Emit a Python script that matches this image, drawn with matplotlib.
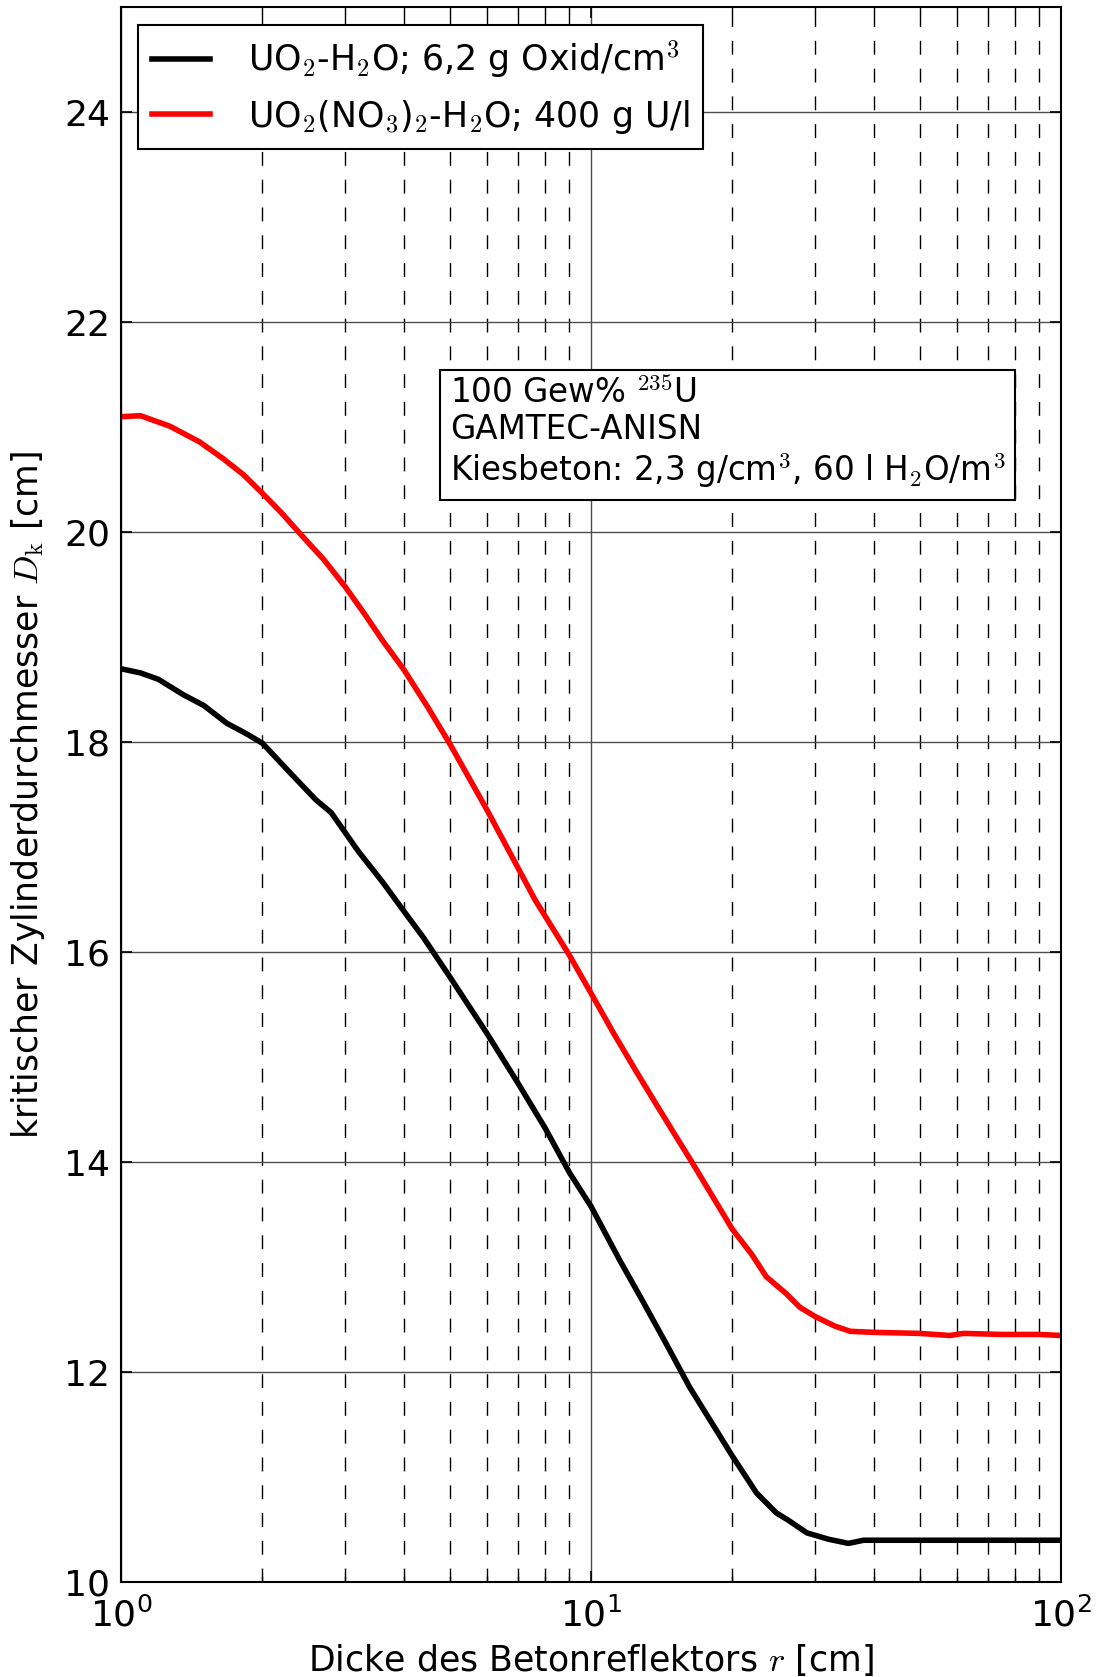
import matplotlib
matplotlib.use("Agg")
import matplotlib.pyplot as plt
from matplotlib.ticker import LogLocator

plt.rcParams['font.family'] = ['DejaVu Sans']
plt.rcParams['mathtext.fontset'] = 'cm'
plt.rcParams['font.size'] = 24

# Betonreflektor-Dicke r [cm] und kritischer Durchmesser D_k [cm]
r_oxid = [1, 1.1, 1.2, 1.36, 1.5, 1.68, 1.85, 2.0, 2.3, 2.6, 2.8, 3.2, 3.6, 4.0,
          4.4, 5.0, 6.0, 7.0, 8.0, 9.0, 10, 11.5, 12.8, 14.5, 16.2, 18, 20,
          22.5, 24.8, 26.3, 28.8, 32, 35.3, 38, 45, 60, 80, 100]
dk_oxid = [18.70, 18.66, 18.60, 18.45, 18.35, 18.18, 18.08, 17.99, 17.70, 17.45,
           17.33, 16.96, 16.67, 16.39, 16.14, 15.77, 15.23, 14.75, 14.32, 13.90,
           13.58, 13.07, 12.70, 12.26, 11.86, 11.53, 11.20, 10.85, 10.66, 10.59,
           10.47, 10.41, 10.37, 10.40, 10.40, 10.40, 10.40, 10.40]

r_nitrat = [1, 1.1, 1.27, 1.47, 1.65, 1.82, 2.0, 2.2, 2.4, 2.7, 3.0, 3.3, 3.6,
            4.0, 4.5, 5.0, 6.0, 7.0, 7.6, 9.0, 10, 11.2, 12.5, 13.6, 15, 16.4,
            18, 20, 22, 23.6, 26, 27.8, 30, 33, 35.6, 40, 50, 58, 62, 75, 90, 100]
dk_nitrat = [21.10, 21.11, 21.01, 20.86, 20.70, 20.55, 20.37, 20.18, 19.99, 19.74,
             19.48, 19.22, 18.97, 18.69, 18.33, 17.99, 17.36, 16.80, 16.50, 15.97,
             15.61, 15.22, 14.86, 14.59, 14.28, 14.00, 13.70, 13.36, 13.12, 12.91,
             12.75, 12.62, 12.53, 12.44, 12.39, 12.38, 12.37, 12.35, 12.37, 12.36,
             12.36, 12.35]

labels = [r'UO$_2$-H$_2$O; 6,2 g Oxid/cm$^3$',
          r'UO$_2$(NO$_3$)$_2$-H$_2$O; 400 g U/l']
yticks = [10, 12, 14, 16, 18, 20, 22, 24]

fig = plt.figure(figsize=(10.98, 16.77), dpi=100)
ax = fig.add_axes([0.1102, 0.0565, 0.8561, 0.9392])

ax.plot(r_oxid, dk_oxid, color='k', lw=4, label=labels[0])
ax.plot(r_nitrat, dk_nitrat, color='r', lw=4, label=labels[1])

ax.set_xscale('log')
ax.set_xlim(1, 100)
ax.set_ylim(10, 25)
ax.set_yticks(yticks)
ax.xaxis.set_minor_locator(LogLocator(base=10, subs=range(2, 10)))

ax.grid(which='major', ls='-', color='0.3', lw=1.0)
ax.grid(which='minor', axis='x', ls='--', color='k', lw=1.0, dashes=(10, 10))
ax.tick_params(which='both', direction='in', top=True, right=True)
ax.tick_params(which='major', length=8, width=1.2, pad=8, labelsize=26)
ax.tick_params(axis='x', which='major', pad=11)
ax.tick_params(which='minor', length=4, width=1.0)
for sp in ax.spines.values():
    sp.set_linewidth(1.5)

ax.set_xlabel(r'Dicke des Betonreflektors $r$ [cm]', fontsize=25, labelpad=6)
ax.set_ylabel(r'kritischer Zylinderdurchmesser $D_\mathrm{k}$ [cm]', fontsize=25,
              labelpad=12)

leg = ax.legend(loc='upper left', fancybox=False, framealpha=1, fontsize=25,
                handlelength=1.65, handletextpad=1.1, borderaxespad=0.5)
leg.get_frame().set_edgecolor('k')
leg.get_frame().set_linewidth(1.5)

ax.text(0.35, 0.765, '100 Gew% $^{235}$U\nGAMTEC-ANISN\n'
        'Kiesbeton: 2,3 g/cm$^3$, 60 l H$_2$O/m$^3$',
        transform=ax.transAxes, ha='left', va='top', fontsize=23.5,
        linespacing=1.12,
        bbox=dict(boxstyle='square,pad=0.3', fc='w', ec='k', lw=1.5))

fig.savefig('out.png', dpi=100)
